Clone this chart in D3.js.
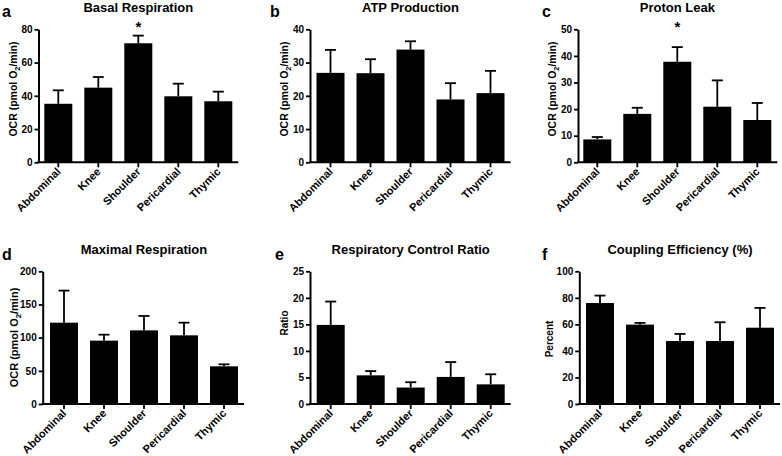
<!DOCTYPE html>
<html>
<head>
<meta charset="utf-8">
<script src="https://cdn.jsdelivr.net/npm/d3@7"></script>
<style>
  html, body { margin: 0; padding: 0; background: #fff; }
  svg { display: block; font-family: "Liberation Sans", Arial, sans-serif; font-weight: bold; }
</style>
</head>
<body>
<svg id="chart" width="782" height="456"></svg>
<script>
// ---- data ----
const categories = ["Abdominal", "Knee", "Shoulder", "Pericardial", "Thymic"];

const basalMean = [35.2, 44.9, 71.6, 39.7, 36.7];
const basalErr  = [43.3, 51.3, 76.2, 47.3, 42.5];
const basalTicks = [0, 20, 40, 60, 80];

const atpMean = [26.9, 26.8, 33.9, 18.9, 20.8];
const atpErr  = [33.8, 31.0, 36.4, 23.8, 27.5];
const atpTicks = [0, 10, 20, 30, 40];

const leakMean = [8.6, 18.2, 37.8, 20.9, 15.9];
const leakErr  = [9.5, 20.5, 43.3, 30.8, 22.3];
const leakTicks = [0, 10, 20, 30, 40, 50];

const maxMean = [122.6, 95.5, 111.0, 103.5, 56.8];
const maxErr  = [170.9, 104.5, 132.7, 122.6, 59.8];
const maxTicks = [0, 50, 100, 150, 200];

const rcrMean = [14.9, 5.4, 3.1, 5.1, 3.7];
const rcrErr  = [19.3, 6.2, 4.1, 7.9, 5.6];
const rcrTicks = [0, 5, 10, 15, 20, 25];

const ceMean = [76.1, 59.8, 47.5, 47.5, 57.5];
const ceErr  = [81.7, 61.1, 52.8, 61.6, 72.4];
const ceTicks = [0, 20, 40, 60, 80, 100];

const panelLetters = ["a", "b", "c", "d", "e", "f"];
const panelTitles = ["Basal Respiration", "ATP Production", "Proton Leak",
                     "Maximal Respiration", "Respiratory Control Ratio", "Coupling Efficiency (%)"];
const yLabels = ["OCR", "OCR", "OCR", "OCR", "Ratio", "Percent"];
const starred = [["Shoulder"], [], ["Shoulder"], [], [], []];

// ---- layout ----
const panels = [
  {mean: basalMean, err: basalErr, ticks: basalTicks, axisX: 38.5, band: [38.3, 238.3], yTop: 29.3, y0: 162.3, letterX: 2, letterY: 17, ylabX: 13.5, ylabY: 89, ylabFs: 10.5},
  {mean: atpMean, err: atpErr, ticks: atpTicks, axisX: 310, band: [310.5, 510.5], yTop: 29.3, y0: 162.3, letterX: 270, letterY: 17, ylabX: 284.5, ylabY: 89, ylabFs: 10.5},
  {mean: leakMean, err: leakErr, ticks: leakTicks, axisX: 578, band: [577.3, 777.3], yTop: 29.3, y0: 162.3, letterX: 542, letterY: 17, ylabX: 552.5, ylabY: 89, ylabFs: 10.5},
  {mean: maxMean, err: maxErr, ticks: maxTicks, axisX: 42.7, band: [44, 244], yTop: 271.3, y0: 404, letterX: 2, letterY: 260, ylabX: 14, ylabY: 337.5, ylabFs: 11},
  {mean: rcrMean, err: rcrErr, ticks: rcrTicks, axisX: 310, band: [310.7, 510.7], yTop: 271.3, y0: 404, letterX: 275, letterY: 260, ylabX: 284, ylabY: 323, ylabFs: 10},
  {mean: ceMean, err: ceErr, ticks: ceTicks, axisX: 579.3, band: [580, 780], yTop: 271.3, y0: 404, letterX: 542, letterY: 260, ylabX: 549, ylabY: 339, ylabFs: 10}
];

const svg = d3.select("#chart");

panels.forEach((p, i) => {
  const g = svg.append("g");
  const x = d3.scaleBand().domain(categories).range(p.band).paddingInner(0.3).paddingOuter(0.15);
  const y = d3.scaleLinear().domain([0, d3.max(p.ticks)]).range([p.y0, p.yTop]);
  const data = categories.map((c, k) => ({c, m: p.mean[k], e: p.err[k]}));

  // bars
  g.selectAll("rect.bar").data(data).join("rect")
    .attr("x", d => x(d.c)).attr("width", x.bandwidth())
    .attr("y", d => y(d.m)).attr("height", d => y(0) - y(d.m))
    .attr("fill", "#000");

  // error bars
  const eg = g.selectAll("g.err").data(data).join("g");
  eg.append("line")
    .attr("x1", d => x(d.c) + x.bandwidth() / 2).attr("x2", d => x(d.c) + x.bandwidth() / 2)
    .attr("y1", d => y(d.m)).attr("y2", d => y(d.e))
    .attr("stroke", "#000").attr("stroke-width", 1.8);
  eg.append("line")
    .attr("x1", d => x(d.c) + x.bandwidth() / 2 - 5.5).attr("x2", d => x(d.c) + x.bandwidth() / 2 + 5.5)
    .attr("y1", d => y(d.e)).attr("y2", d => y(d.e))
    .attr("stroke", "#000").attr("stroke-width", 1.8);

  // y axis
  const ya = g.append("g").attr("transform", `translate(${p.axisX},0)`)
    .call(d3.axisLeft(y).tickValues(p.ticks).tickSize(4).tickPadding(2).tickSizeOuter(0));
  ya.select(".domain").attr("stroke-width", 2);
  ya.selectAll(".tick line").attr("stroke-width", 1.8);
  ya.selectAll(".tick text").attr("font-size", 10).attr("font-weight", "bold")
    .attr("font-family", "Liberation Sans, Arial, sans-serif").attr("fill", "#000");

  // x axis
  const xa = g.append("g").attr("transform", `translate(0,${p.y0})`)
    .call(d3.axisBottom(x).tickSize(5).tickSizeOuter(0));
  xa.select(".domain").attr("d", `M${p.axisX - 1},0H${p.band[1]}`).attr("stroke-width", 2);
  xa.selectAll(".tick line").attr("stroke-width", 1.8);
  xa.selectAll(".tick text")
    .attr("font-size", 11).attr("font-weight", "bold")
    .attr("font-family", "Liberation Sans, Arial, sans-serif").attr("fill", "#000")
    .attr("text-anchor", "end")
    .attr("x", 0).attr("y", 0).attr("dy", null)
    .attr("transform", "translate(3,10) rotate(-45)");

  // title
  g.append("text").attr("x", (p.band[0] + p.band[1]) / 2).attr("y", p.yTop - 17.8)
    .attr("text-anchor", "middle").attr("font-size", 13).text(panelTitles[i]);

  // panel letter
  g.append("text").attr("x", p.letterX).attr("y", p.letterY)
    .attr("font-size", 16).text(panelLetters[i]);

  // y label
  const yl = g.append("text")
    .attr("transform", `translate(${p.ylabX + p.ylabFs * 0.35},${p.ylabY}) rotate(-90)`)
    .attr("text-anchor", "middle").attr("font-size", p.ylabFs);
  if (yLabels[i] === "OCR") {
    yl.append("tspan").text("OCR (pmol O");
    yl.append("tspan").attr("font-size", p.ylabFs * 0.7).attr("dy", 3).text("2");
    yl.append("tspan").attr("dy", -3).text("/min)");
  } else {
    yl.text(yLabels[i]);
  }

  // significance stars
  g.selectAll("text.star").data(starred[i]).join("text")
    .attr("class", "star")
    .attr("x", d => x(d) + x.bandwidth() / 2).attr("y", p.yTop + 2.5)
    .attr("text-anchor", "middle").attr("font-size", 15).text("*");
});
</script>
</body>
</html>
